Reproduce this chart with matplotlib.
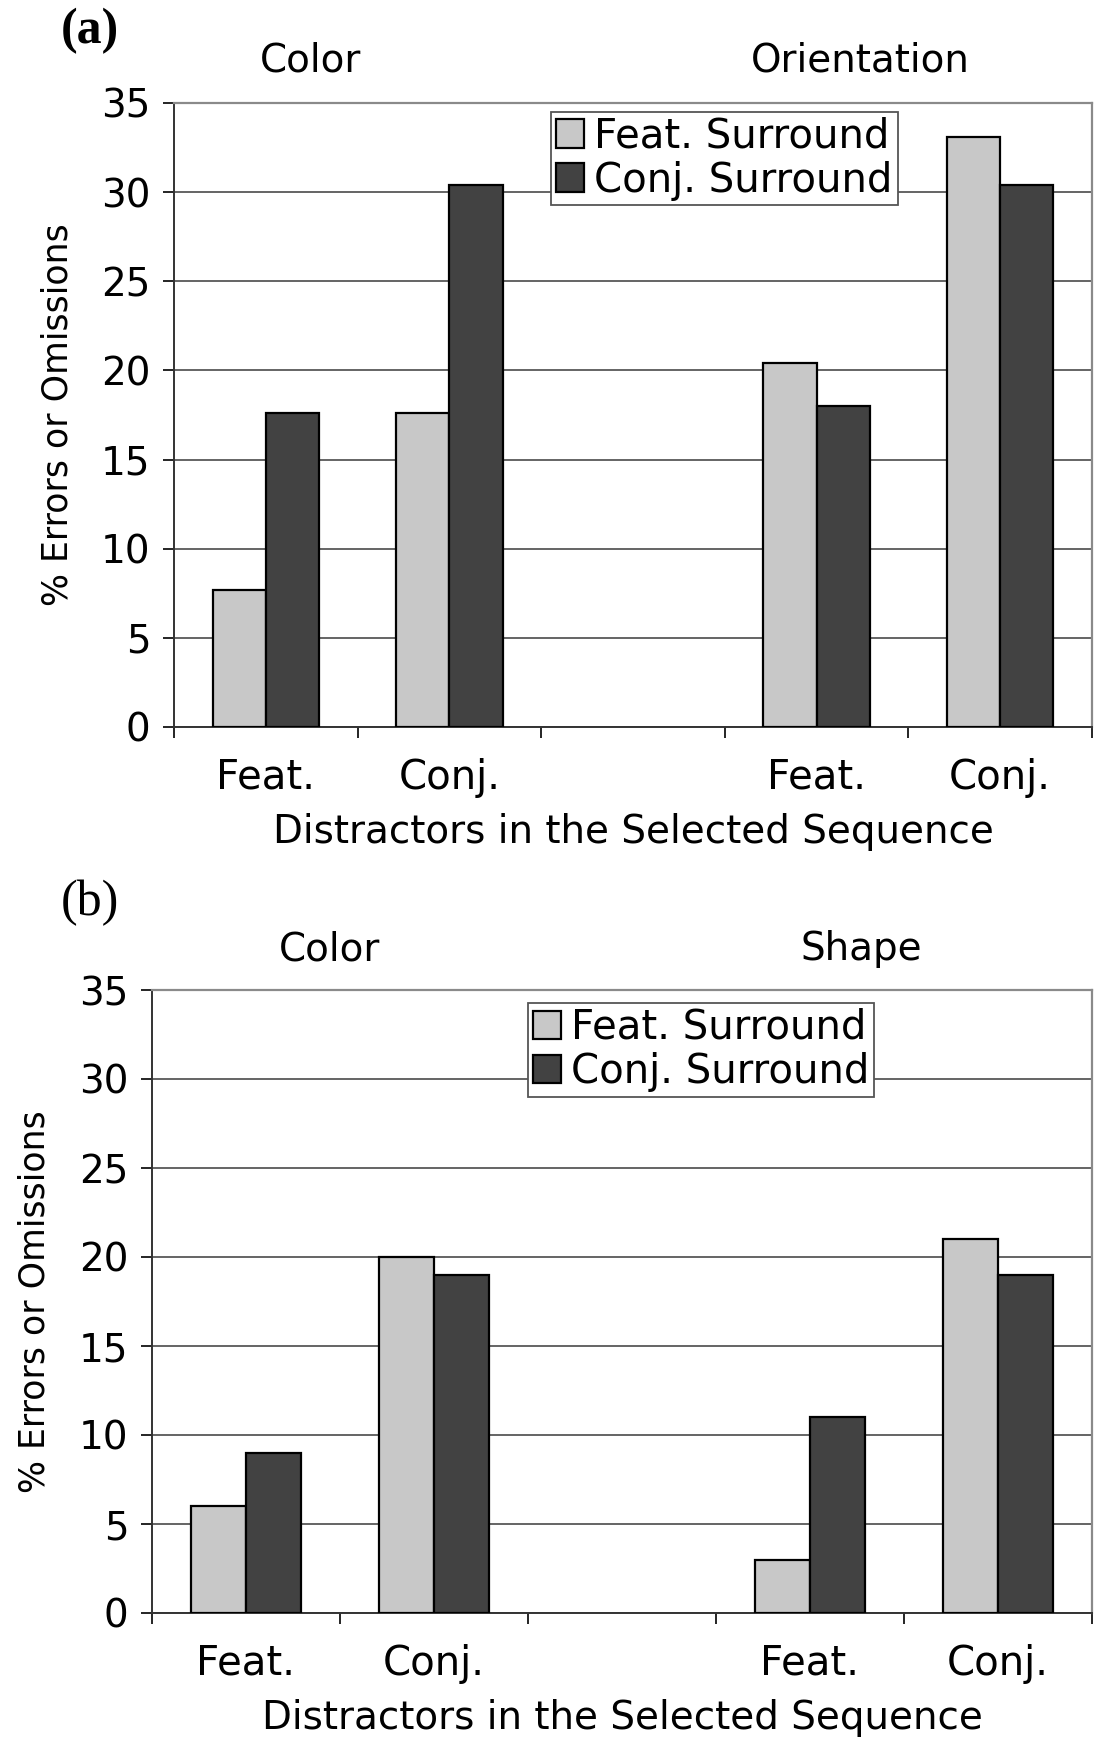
import matplotlib
matplotlib.use('Agg')
import matplotlib.pyplot as plt
import numpy as np

# Data
categories = ['Feat.', 'Conj.', '', 'Feat.', 'Conj.']
series_names = ['Feat. Surround', 'Conj. Surround']

# panel (a): Color / Orientation
a_feat_surround = [7.7, 17.6, np.nan, 20.4, 33.1]
a_conj_surround = [17.6, 30.4, np.nan, 18.0, 30.4]
a_groups = ['Color', 'Orientation']

# panel (b): Color / Shape
b_feat_surround = [6.0, 20.0, np.nan, 3.0, 21.0]
b_conj_surround = [9.0, 19.0, np.nan, 11.0, 19.0]
b_groups = ['Color', 'Shape']

y_ticks = [0, 5, 10, 15, 20, 25, 30, 35]

color_light = '#c8c8c8'
color_dark = '#424242'
W, H = 1094, 1738

fig = plt.figure(figsize=(W / 100, H / 100), dpi=100)
plt.rcParams['font.family'] = 'DejaVu Sans'


def px_rect(left, top, right, bottom):
    return [left / W, 1 - bottom / H, (right - left) / W, (bottom - top) / H]


def draw_panel(rect, feat, conj, legend_anchor, ylabel_x):
    ax = fig.add_axes(rect)
    x = np.arange(len(categories))
    width = 0.29
    ax.bar(x - width / 2, feat, width, color=color_light, edgecolor='black',
           linewidth=1.6, label=series_names[0], zorder=3)
    ax.bar(x + width / 2, conj, width, color=color_dark, edgecolor='black',
           linewidth=1.6, label=series_names[1], zorder=3)

    ax.set_xlim(-0.5, len(categories) - 0.5)
    ax.set_ylim(0, 35)
    ax.set_yticks(y_ticks)
    ax.tick_params(axis='y', labelsize=28, length=8, width=1.2, pad=9)

    # boundaries as tick marks, labels at the centers
    ax.set_xticks(np.arange(len(categories) + 1) - 0.5)
    ax.set_xticklabels([])
    ax.tick_params(axis='x', which='major', length=8, width=1.2)
    ax.set_xticks(x, minor=True)
    ax.set_xticklabels(categories, minor=True, fontsize=29)
    ax.tick_params(axis='x', which='minor', length=0, pad=22)

    ax.yaxis.grid(True, color='#4a4a4a', linewidth=1.2)
    ax.set_axisbelow(True)
    for side in ['left', 'bottom']:
        ax.spines[side].set_color('#333333')
        ax.spines[side].set_linewidth(1.4)
    for side in ['top', 'right']:
        ax.spines[side].set_color('#8a8a8a')
        ax.spines[side].set_linewidth(1.6)

    ax.set_xlabel('Distractors in the Selected Sequence', fontsize=28, labelpad=11)
    ax.set_ylabel('% Errors or Omissions', fontsize=25)
    ax.yaxis.set_label_coords(ylabel_x, 0.5)

    leg = ax.legend(loc='upper left', bbox_to_anchor=legend_anchor, borderaxespad=0,
                    fontsize=29, frameon=True, fancybox=False, handlelength=0.7,
                    handleheight=0.7, handletextpad=0.25, borderpad=0.12,
                    labelspacing=0.1)
    leg.get_frame().set_edgecolor('#555555')
    leg.get_frame().set_linewidth(1.3)
    leg.get_frame().set_alpha(1)
    for patch in leg.get_patches():
        patch.set_linewidth(1.6)
    return ax


# (a)
draw_panel(px_rect(174, 103, 1092, 727), a_feat_surround, a_conj_surround,
           (0.411, 0.986), -0.108)
fig.text(61 / W, 1 - 31 / H, '(a)', fontsize=36, fontweight='bold',
         family='Liberation Serif', ha='left', va='center')
fig.text(311 / W, 1 - 60 / H, a_groups[0], fontsize=28, ha='center', va='center')
fig.text(860 / W, 1 - 60 / H, a_groups[1], fontsize=28, ha='center', va='center')

# (b)
draw_panel(px_rect(152, 990, 1092, 1613), b_feat_surround, b_conj_surround,
           (0.40, 0.979), -0.107)
fig.text(61 / W, 1 - 903 / H, '(b)', fontsize=36,
         family='Liberation Serif', ha='left', va='center')
fig.text(330 / W, 1 - 949 / H, b_groups[0], fontsize=28, ha='center', va='center')
fig.text(861 / W, 1 - 949 / H, b_groups[1], fontsize=28, ha='center', va='center')

fig.savefig('out.png', dpi=100, facecolor='white')
plt.close(fig)
